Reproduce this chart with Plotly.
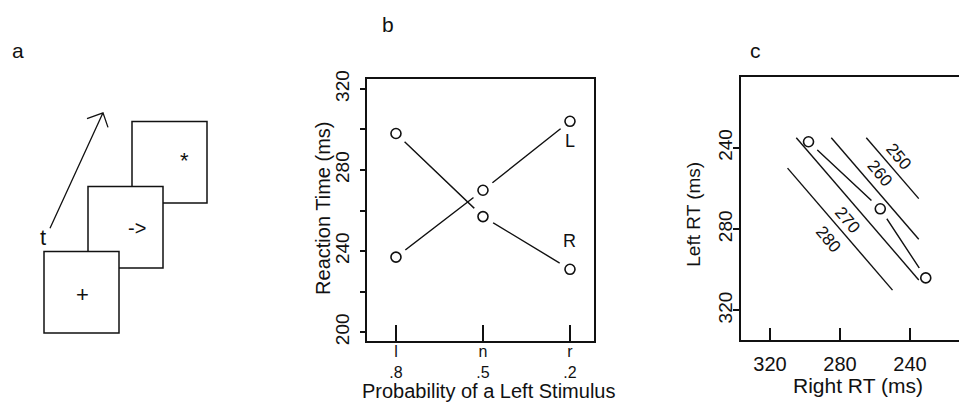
import plotly.graph_objects as go

W, H = 959, 406

# ---- data -------------------------------------------------------------
stim_codes = ["l", "n", "r"]            # stimulus-probability condition
left_prob = [".8", ".5", ".2"]          # probability of a left stimulus
left_rt = [237, 270, 304]               # mean RT to left stimuli (ms)
right_rt = [298, 257, 231]              # mean RT to right stimuli (ms)

# iso-mean-RT lines: (L + R) / 2 = level, drawn over a range of Left RT
iso_levels = [250, 260, 270, 280]
iso_left_lo = [235, 235, 235, 250]
iso_left_hi = [265, 285, 305, 310]

b_ytick_vals = [200, 220, 240, 260, 280, 300, 320]
b_ytick_text = ["200", "", "240", "", "280", "", "320"]
c_tick_vals = [240, 280, 320]

FONT = "Liberation Sans, Arial, sans-serif"
INK = "#111111"


def px(x):
    return x / W


def py(y):
    return 1 - y / H


fig = go.Figure()

# ---- panel b: RT vs probability --------------------------------------
xpos = list(range(len(stim_codes)))
for series in (left_rt, right_rt):
    fig.add_trace(go.Scatter(x=xpos, y=series, mode="lines",
                             line=dict(color=INK, width=1.4),
                             xaxis="x", yaxis="y", hoverinfo="skip"))
# white halos keep the connecting lines clear of the circles
fig.add_trace(go.Scatter(x=xpos + xpos, y=left_rt + right_rt, mode="markers",
                         marker=dict(symbol="circle", size=24, color="white"),
                         xaxis="x", yaxis="y", hoverinfo="skip"))
fig.add_trace(go.Scatter(x=xpos + xpos, y=left_rt + right_rt, mode="markers",
                         marker=dict(symbol="circle-open", size=10, color=INK,
                                     line=dict(color=INK, width=1.6)),
                         xaxis="x", yaxis="y"))

# ---- panel c: Left RT vs Right RT ------------------------------------
fig.add_trace(go.Scatter(x=right_rt, y=left_rt, mode="lines",
                         line=dict(color=INK, width=1.4),
                         xaxis="x2", yaxis="y2", hoverinfo="skip"))
fig.add_trace(go.Scatter(x=right_rt, y=left_rt, mode="markers",
                         marker=dict(symbol="circle", size=24, color="white"),
                         xaxis="x2", yaxis="y2", hoverinfo="skip"))
iso_x, iso_y = [], []
for lev, lo, hi in zip(iso_levels, iso_left_lo, iso_left_hi):
    iso_x += [2 * lev - lo, 2 * lev - hi, None]
    iso_y += [lo, hi, None]
fig.add_trace(go.Scatter(x=iso_x, y=iso_y, mode="lines",
                         line=dict(color=INK, width=1.4),
                         xaxis="x2", yaxis="y2", hoverinfo="skip"))
fig.add_trace(go.Scatter(x=right_rt, y=left_rt, mode="markers",
                         marker=dict(symbol="circle-open", size=10, color=INK,
                                     line=dict(color=INK, width=1.6)),
                         xaxis="x2", yaxis="y2"))

# contour labels, set beside their lines
iso_label_pos = {250: (246.7, 244.5), 260: (257.1, 252.4),
                 270: (276.2, 275.5), 280: (286.7, 285.1)}
annotations = []
for lev in iso_levels:
    lx, ly = iso_label_pos[lev]
    annotations.append(dict(x=lx, y=ly, xref="x2", yref="y2", text=str(lev),
                            showarrow=False, textangle=50,
                            font=dict(size=17, color=INK)))

# series labels in panel b
annotations += [
    dict(x=2, y=294.5, xref="x", yref="y", text="L", showarrow=False,
         font=dict(size=18, color=INK)),
    dict(x=2, y=245, xref="x", yref="y", text="R", showarrow=False,
         font=dict(size=18, color=INK)),
]


def txt(x, y, s, size, angle=0):
    return dict(x=px(x), y=py(y), xref="paper", yref="paper", text=s,
                showarrow=False, textangle=angle, xanchor="center",
                yanchor="middle", font=dict(size=size, color=INK))


annotations += [
    txt(18, 44, "a", 21), txt(388, 17, "b", 21), txt(755, 44, "c", 21),
    txt(323, 207, "Reaction Time (ms)", 20, -90),
    txt(488, 395, "Probability of a Left Stimulus", 20),
    txt(694, 213, "Left RT (ms)", 19, -90),
    txt(858, 389, "Right RT (ms)", 21),
    # panel a: trial sequence
    txt(43, 237, "t", 22), txt(82, 295, "+", 22),
    txt(137, 227, "-&gt;", 20), txt(184, 157, "*", 22),
]

# ---- panel a: stacked display frames and time arrow -------------------
shapes = []
frames = [(132, 117, 207, 201), (88, 184, 163, 268), (44, 251, 119, 335)]
for x0, y0, x1, y1 in frames:
    shapes.append(dict(type="rect", xref="paper", yref="paper",
                       x0=px(x0), y0=py(y1), x1=px(x1), y1=py(y0),
                       line=dict(color=INK, width=1.5), fillcolor="white",
                       layer="above"))
arrow = [(50, 227), (103, 108)]
barbs = [(87, 114), (103, 108), (108, 123)]
path = "M {} {} L {} {}".format(px(arrow[0][0]), py(arrow[0][1]),
                                px(arrow[1][0]), py(arrow[1][1]))
path += " M {} {} L {} {} L {} {}".format(*[v for p in barbs for v in (px(p[0]), py(p[1]))])
shapes.append(dict(type="path", xref="paper", yref="paper", path=path,
                   line=dict(color=INK, width=1.3)))


def axis_common(size=19):
    return dict(showline=True, linecolor=INK, linewidth=1.5,
                showgrid=False, zeroline=False, tickcolor=INK,
                tickwidth=1.5, tickfont=dict(size=size, color=INK,
                                             family=FONT))


fig.update_layout(
    width=W, height=H,
    margin=dict(l=0, r=0, t=0, b=0),
    paper_bgcolor="white", plot_bgcolor="white",
    showlegend=False,
    font=dict(family=FONT, color=INK),
    xaxis=dict(domain=[px(367), px(594)], range=[-0.333, 2.276],
               tickvals=xpos,
               ticktext=[f"{c}<br>{p}" for c, p in zip(stim_codes, left_prob)],
               ticks="inside", ticklen=16, mirror=True, anchor="y",
               ticklabelstandoff=-5, **axis_common(16)),
    yaxis=dict(domain=[py(343), py(72.7)], range=[195.7, 325.1],
               tickvals=b_ytick_vals, ticktext=b_ytick_text,
               ticks="outside", ticklen=5, tickangle=-90, mirror=True,
               ticklabelstandoff=4, anchor="x", **axis_common()),
    xaxis2=dict(domain=[px(741), 1], range=[336.6, 212.0],
                tickvals=c_tick_vals, ticks="inside", ticklen=12,
                mirror=True, ticklabelstandoff=5, anchor="y2",
                **axis_common(20)),
    yaxis2=dict(domain=[py(342), py(71)], range=[334.5, 205.1],
                tickvals=c_tick_vals, ticks="outside", ticklen=6,
                tickangle=-90, ticklabelstandoff=-6, anchor="x2",
                **axis_common()),
    annotations=annotations,
    shapes=shapes,
)

fig.write_html("out.html")
